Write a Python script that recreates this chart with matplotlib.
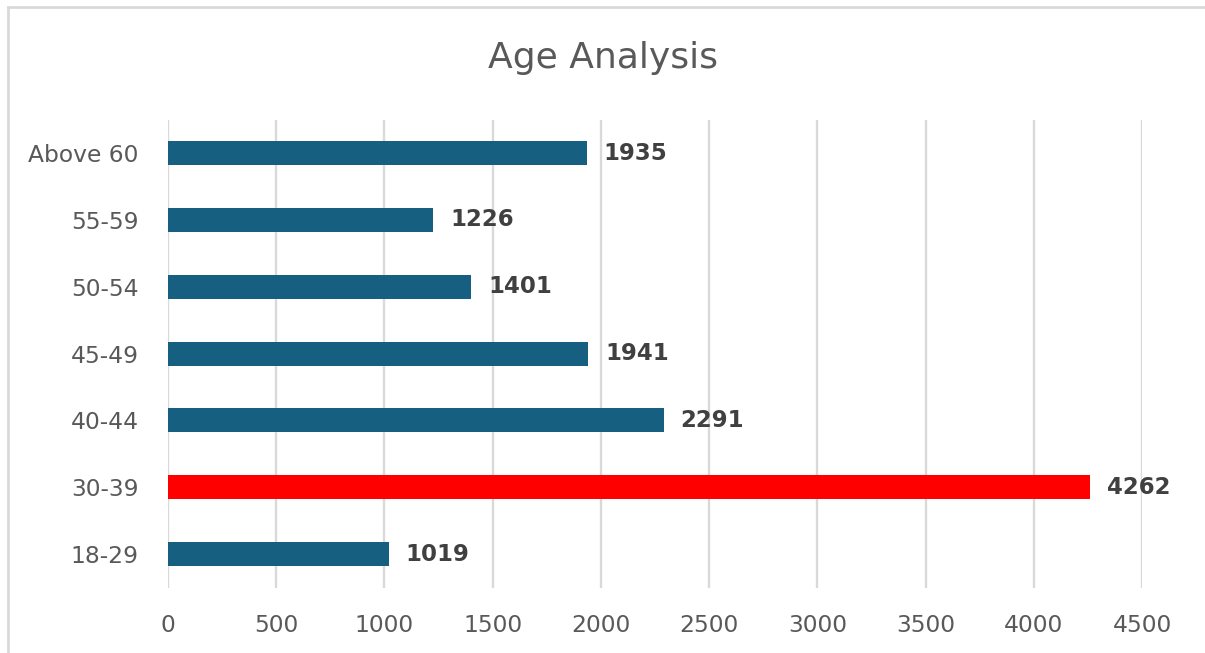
import matplotlib.pyplot as plt
from matplotlib.lines import Line2D

# Age groups (bottom to top) and counts
age_groups = ["18-29", "30-39", "40-44", "45-49", "50-54", "55-59", "Above 60"]
counts = [1019, 4262, 2291, 1941, 1401, 1226, 1935]
highlight = "30-39"

x_ticks = [0, 500, 1000, 1500, 2000, 2500, 3000, 3500, 4000, 4500]

BLUE = "#175F80"
RED = "#FF0000"
GRID = "#D9D9D9"
TEXT = "#595959"
LABEL = "#404040"

plt.rcParams["font.family"] = ["DejaVu Sans"]

fig = plt.figure(figsize=(12.05, 6.53), dpi=100)
ax = fig.add_axes([0.1394, 0.1003, 0.8083, 0.7165])

colors = [RED if g == highlight else BLUE for g in age_groups]
ypos = range(len(age_groups))
bars = ax.barh(ypos, counts, height=0.36, color=colors, zorder=3)

for bar, val in zip(bars, counts):
    ax.text(bar.get_width() + 78, bar.get_y() + bar.get_height() / 2, f"{val}",
            va="center", ha="left", fontsize=16.5, fontweight="bold", color=LABEL)

ax.set_xlim(0, 4500)
ax.set_ylim(-0.5, len(age_groups) - 0.5)
ax.set_xticks(x_ticks)
ax.set_xticklabels([str(t) for t in x_ticks])
ax.set_yticks(list(ypos))
ax.set_yticklabels(age_groups)

ax.tick_params(axis="both", length=0, labelsize=16.8, labelcolor=TEXT)
ax.tick_params(axis="x", pad=19)
ax.tick_params(axis="y", pad=21)

ax.grid(axis="x", color=GRID, linewidth=1.7, zorder=0)
ax.grid(axis="y", visible=False)
for s in ax.spines.values():
    s.set_visible(False)

fig.text(0.5, 0.911, "Age Analysis", ha="center", va="center",
         fontsize=26, color=TEXT)

# Chart-area frame: top and left edges
fig.add_artist(Line2D([0.0066, 1.0], [0.989, 0.989], transform=fig.transFigure,
                      color=GRID, linewidth=2))
fig.add_artist(Line2D([0.0066, 0.0066], [0.0, 0.989], transform=fig.transFigure,
                      color=GRID, linewidth=2))

fig.savefig("out.png", dpi=100, facecolor="white")
